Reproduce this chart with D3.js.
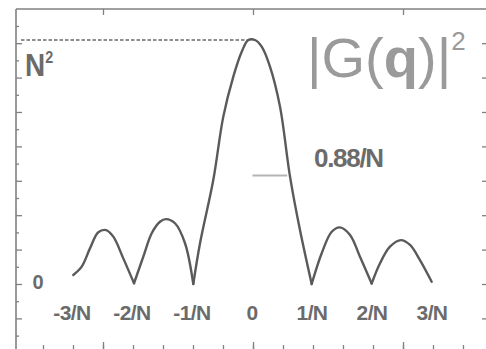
<!DOCTYPE html>
<html>
<head>
<meta charset="utf-8">
<script src="https://cdn.jsdelivr.net/npm/d3@7"></script>
<style>
  body { margin: 0; background: #fff; }
  svg { display: block; font-family: "Liberation Sans", Arial, sans-serif; }
</style>
</head>
<body>
<svg id="plotSVG" width="486" height="349"></svg>
<script>
// q in units of 1/N, intensity normalised to N^2
const qValues = [-2.995, -2.855, -2.717, -2.578, -2.45, -2.328, -2.162, -1.983,
    -1.828, -1.688, -1.55, -1.45, -1.3, -1.133, -0.995, -0.883, -0.662, -0.495,
    -0.328, -0.188, -0.078, 0.033, 0.145, 0.283, 0.45, 0.617, 0.783, 0.978,
    1.145, 1.312, 1.45, 1.617, 1.783, 1.978, 2.117, 2.283, 2.467, 2.617, 2.783, 2.978];
const intensity = [0.037, 0.071, 0.146, 0.212, 0.221, 0.194, 0.105, 0.003,
    0.112, 0.208, 0.255, 0.266, 0.249, 0.167, 0.0, 0.167, 0.426, 0.686,
    0.85, 0.952, 1.0, 1.0, 0.973, 0.891, 0.727, 0.44, 0.221, 0.0,
    0.126, 0.214, 0.232, 0.201, 0.112, 0.002, 0.085, 0.153, 0.18, 0.16, 0.098, 0.009];

const xLabelValues = [-3, -2, -1, 0, 1, 2, 3];
const xLabels = ["-3/N", "-2/N", "-1/N", "0", "1/N", "2/N", "3/N"];
const xMajorTicks = [-2.5, 0, 2.5];
const xMinorTicks = d3.range(-3.5, 3.51, 0.5);
const yTickStep = 0.0705;
const yTicks = d3.range(-3, 16).map(k => k * yTickStep);
const halfWidth = [-0.01, 0.57];   // the 0.88/N marker, in q
const halfLevel = 0.445;

const W = 486, H = 349;
const svg = d3.select('#plotSVG');

// scales
const x = d3.scaleLinear().domain([-3.5, 3.5]).range([43, 463]);
const y = d3.scaleLinear().domain([0, 1]).range([284, 40]);

const frameCol = "#808080";
const textCol = "#6b6b6b";

// frame: top and left lines
svg.append('line')
    .attr('x1', 16).attr('x2', W).attr('y1', 9).attr('y2', 9)
    .attr('stroke', frameCol).attr('stroke-width', 1.6);
svg.append('line')
    .attr('x1', 16).attr('x2', 16).attr('y1', 9).attr('y2', H)
    .attr('stroke', frameCol).attr('stroke-width', 1.6);

// helper to style axes
function styleAxis(g){
    g.select('.domain').remove();
    g.selectAll('line').attr('stroke', frameCol).attr('stroke-width', 1.3);
}

// left ticks (major on even steps)
svg.append('g')
    .attr('transform', 'translate(16,0)')
    .call(d3.axisRight(y).tickValues(yTicks.filter((d, i) => i % 2 == 1)).tickSize(6).tickFormat(""))
    .call(styleAxis);
svg.append('g')
    .attr('transform', 'translate(16,0)')
    .call(d3.axisRight(y).tickValues(yTicks.filter((d, i) => i % 2 == 0)).tickSize(3).tickFormat(""))
    .call(styleAxis);

// right ticks
svg.append('g')
    .attr('transform', 'translate(' + W + ',0)')
    .call(d3.axisLeft(y).tickValues(yTicks.filter((d, i) => i % 2 == 1)).tickSize(4).tickFormat(""))
    .call(styleAxis);

// top ticks
svg.append('g')
    .attr('transform', 'translate(0,9)')
    .call(d3.axisBottom(x).tickValues(xMajorTicks).tickSize(6).tickFormat(""))
    .call(styleAxis);

// bottom ticks
svg.append('g')
    .attr('transform', 'translate(0,' + H + ')')
    .call(d3.axisTop(x).tickValues(xMinorTicks).tickSize(4).tickFormat(""))
    .call(styleAxis);
svg.append('g')
    .attr('transform', 'translate(0,' + H + ')')
    .call(d3.axisTop(x).tickValues(xMajorTicks).tickSize(7).tickFormat(""))
    .call(styleAxis);

// dashed N^2 level
svg.append('line')
    .attr('x1', 21).attr('x2', x(-0.06))
    .attr('y1', y(1)).attr('y2', y(1))
    .attr('stroke', '#6a6a6a').attr('stroke-width', 1.3)
    .attr('stroke-dasharray', '3.5,2');

// half width marker
svg.append('line')
    .attr('x1', x(halfWidth[0])).attr('x2', x(halfWidth[1]))
    .attr('y1', y(halfLevel)).attr('y2', y(halfLevel))
    .attr('stroke', '#b4b4b4').attr('stroke-width', 2);

// the curve: split into lobes at the minima so the cusps stay sharp
const pts = qValues.map((q, i) => [q, intensity[i]]);
let lobes = [];
let cur = [pts[0]];
for (let i = 1; i < pts.length; i++){
    cur.push(pts[i]);
    let isMin = i < pts.length - 1 && pts[i][1] < pts[i - 1][1] && pts[i][1] < pts[i + 1][1];
    if (isMin){
        lobes.push(cur);
        cur = [pts[i]];
    }
}
lobes.push(cur);

const line = d3.line()
    .x(d => x(d[0]))
    .y(d => y(d[1]))
    .curve(d3.curveCatmullRom.alpha(0.5));

svg.selectAll('.lobe')
    .data(lobes)
    .enter()
    .append('path')
    .classed('lobe', true)
    .attr('fill', 'none')
    .attr('stroke', '#5a5a5a')
    .attr('stroke-width', 2.4)
    .attr('stroke-linejoin', 'round')
    .attr('stroke-linecap', 'round')
    .attr('d', line);

// x labels
svg.selectAll('.xLabel')
    .data(xLabelValues)
    .enter()
    .append('text')
    .classed('xLabel', true)
    .attr('x', d => x(d) - 1)
    .attr('y', 320)
    .attr('text-anchor', 'middle')
    .style('font-size', '21px')
    .style('font-weight', 'bold')
    .style('letter-spacing', '-0.6px')
    .attr('fill', textCol)
    .text((d, i) => xLabels[i]);

// y labels: 0 and N^2
svg.append('text')
    .attr('x', 38).attr('y', 289)
    .attr('text-anchor', 'middle')
    .style('font-size', '20px').style('font-weight', 'bold')
    .attr('fill', textCol)
    .text('0');

let n2 = svg.append('text')
    .attr('transform', 'translate(25,76) scale(0.9,1)')
    .style('font-size', '31px').style('font-weight', 'bold')
    .attr('fill', textCol);
n2.append('tspan').text('N');
n2.append('tspan').attr('dy', -13).style('font-size', '16px').text('2');

// width annotation
svg.append('text')
    .attr('x', 314).attr('y', 167)
    .style('font-size', '26px').style('font-weight', 'bold')
    .style('letter-spacing', '-1.3px')
    .attr('fill', textCol)
    .text('0.88/N');

// title |G(q)|^2
let title = svg.append('text')
    .attr('x', 307).attr('y', 77)
    .style('font-size', '56px')
    .attr('fill', '#9a9a9a');
title.append('tspan').text('|G(');
title.append('tspan').style('font-weight', 'bold').text('q');
title.append('tspan').text(')|');
title.append('tspan').attr('dy', -27).style('font-size', '26px').text('2');
</script>
</body>
</html>
